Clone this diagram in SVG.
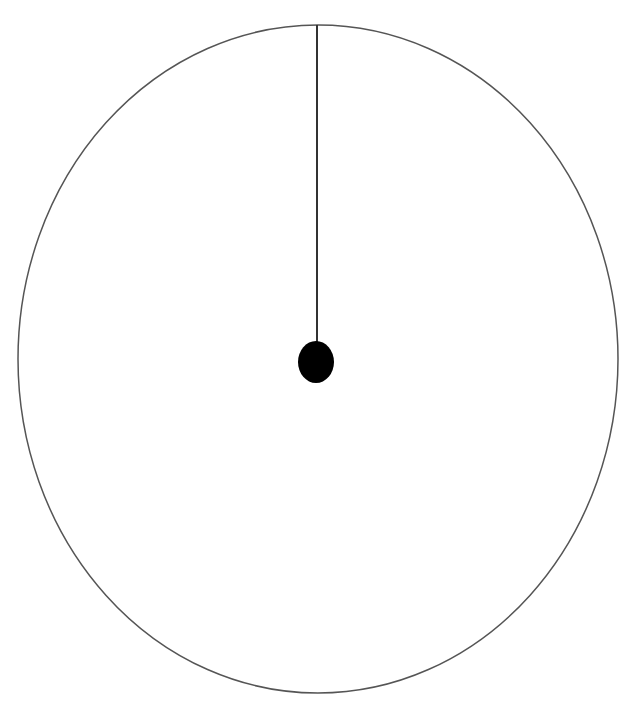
<svg xmlns="http://www.w3.org/2000/svg" width="631" height="719" viewBox="0 0 631 719">
<style>.o{fill:none;stroke:#555;stroke-width:1.5}</style>
<rect width="631" height="719" fill="#fff"/>
<g id="circle"><ellipse class="o" cx="318" cy="359" rx="300" ry="334"/></g>
<g id="connectors"><line x1="317" y1="25" x2="317" y2="345" stroke="#333" stroke-width="2"/></g>
<g id="dot"><ellipse cx="316" cy="362" rx="18" ry="21" fill="#000"/></g>
</svg>
